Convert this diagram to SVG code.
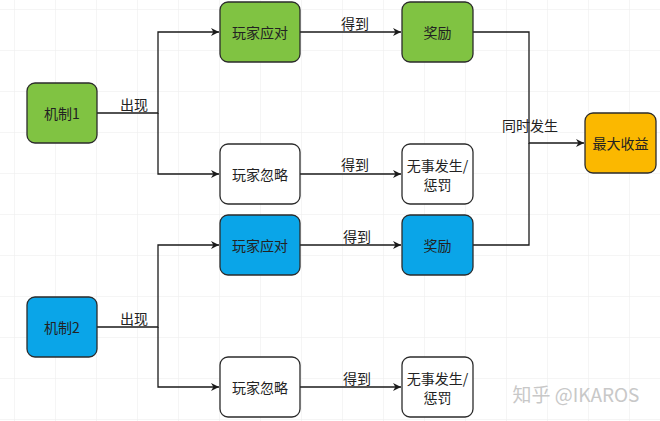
<svg xmlns="http://www.w3.org/2000/svg" width="660" height="421" viewBox="0 0 660 421">
<defs>
<pattern id="grid" x="14" y="9" width="41" height="41" patternUnits="userSpaceOnUse">
<path d="M0 0 H41 M0 0 V41" fill="none" stroke="#ececec" stroke-width="1"/>
</pattern>
<marker id="arr" viewBox="0 0 10 10" refX="10" refY="5" markerWidth="8" markerHeight="8" markerUnits="userSpaceOnUse" orient="auto">
<path d="M0 0 L10 5 L0 10 L3 5 Z" fill="#1a1a1a"/>
</marker>
</defs>
<style>
.n rect{stroke:#2b2b2b;stroke-width:1.3}
.g{fill:#80C342}
.b{fill:#0AA5E8}
.w{fill:#ffffff}
.o{fill:#FBB800}
text{font-family:"Noto Sans CJK SC","Liberation Sans",sans-serif;font-size:14px;fill:#222;text-anchor:middle;dominant-baseline:central}
.c path{fill:none;stroke:#1a1a1a;stroke-width:1.3}
.lbl{font-size:14px}
</style>
<rect width="660" height="421" fill="#ffffff"/>
<rect width="660" height="421" fill="url(#grid)"/>
<g class="c" id="connectors">
<path d="M97 113 H158 V32 H219" marker-end="url(#arr)"/>
<path d="M158 113 V174 H219" marker-end="url(#arr)"/>
<path d="M300 32 H401" marker-end="url(#arr)"/>
<path d="M300 174 H401" marker-end="url(#arr)"/>
<path d="M473 32 H529 V143 H584" marker-end="url(#arr)"/>
<path d="M473 245 H529 V143"/>
<path d="M97 327 H158 V245 H219" marker-end="url(#arr)"/>
<path d="M158 327 V387 H219" marker-end="url(#arr)"/>
<path d="M300 245 H401" marker-end="url(#arr)"/>
<path d="M300 387 H401" marker-end="url(#arr)"/>
</g>
<g id="labels">
<text class="lbl" x="134" y="104">出现</text>
<text class="lbl" x="355" y="23">得到</text>
<text class="lbl" x="355" y="164">得到</text>
<text class="lbl" x="530" y="125">同时发生</text>
<text class="lbl" x="134" y="318">出现</text>
<text class="lbl" x="357" y="236">得到</text>
<text class="lbl" x="357" y="378">得到</text>
</g>
<g class="n" id="m1"><rect class="g" x="27" y="83" width="70" height="60" rx="8"/><text x="62" y="113">机制1</text></g>
<g class="n" id="r1"><rect class="g" x="220" y="2" width="80" height="60" rx="8"/><text x="260" y="32">玩家应对</text></g>
<g class="n" id="i1"><rect class="w" x="220" y="144" width="80" height="60" rx="8"/><text x="260" y="174">玩家忽略</text></g>
<g class="n" id="j1"><rect class="g" x="402" y="2" width="71" height="60" rx="8"/><text x="437.5" y="32">奖励</text></g>
<g class="n" id="p1"><rect class="w" x="402" y="144" width="71" height="60" rx="8"/><text x="437.5" y="165">无事发生/</text><text x="437.5" y="184">惩罚</text></g>
<g class="n" id="max"><rect class="o" x="585" y="113" width="71" height="60" rx="8"/><text x="620.5" y="143">最大收益</text></g>
<g class="n" id="m2"><rect class="b" x="27" y="297" width="70" height="60" rx="8"/><text x="62" y="327">机制2</text></g>
<g class="n" id="r2"><rect class="b" x="220" y="215" width="80" height="60" rx="8"/><text x="260" y="245">玩家应对</text></g>
<g class="n" id="i2"><rect class="w" x="220" y="357" width="80" height="60" rx="8"/><text x="260" y="387">玩家忽略</text></g>
<g class="n" id="j2"><rect class="b" x="402" y="215" width="71" height="60" rx="8"/><text x="437.5" y="245">奖励</text></g>
<g class="n" id="p2"><rect class="w" x="402" y="357" width="71" height="60" rx="8"/><text x="437.5" y="378">无事发生/</text><text x="437.5" y="397">惩罚</text></g>
<text x="576" y="393" style="font-size:19px;fill:#c8c8c8">知乎 @IKAROS</text>
</svg>
